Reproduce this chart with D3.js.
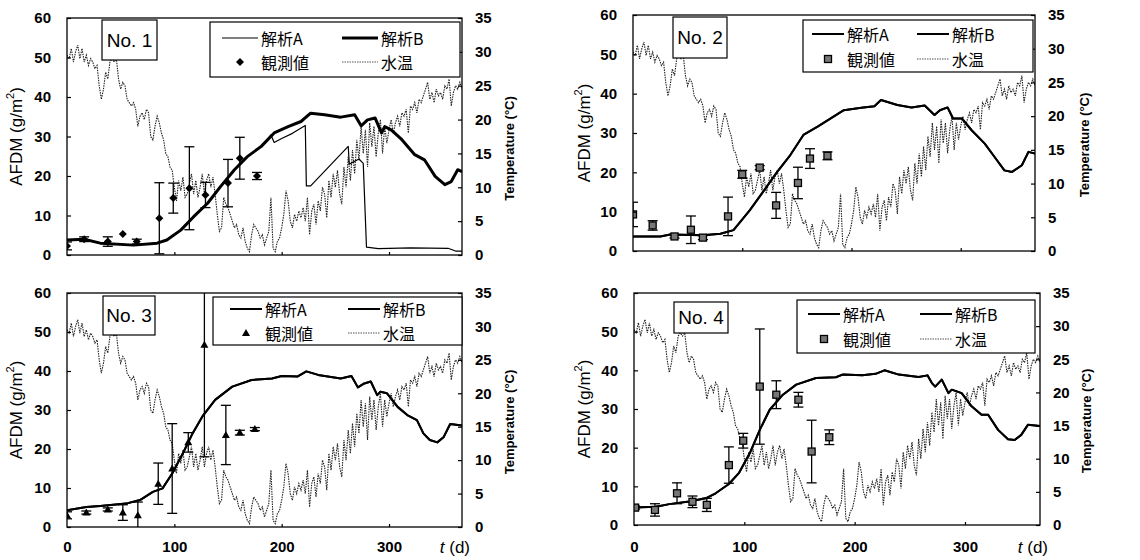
<!DOCTYPE html>
<html>
<head>
<meta charset="utf-8">
<script src="https://cdn.jsdelivr.net/npm/d3@7"></script>
<style>
  body { margin: 0; background: #fff; }
  svg { font-family: "Liberation Sans", Arial, sans-serif; }
  .cjk { font-family: "Noto Sans CJK JP", sans-serif; }
  .tick text { font: bold 15px "Liberation Sans", Arial, sans-serif; fill: #000; }
</style>
</head>
<body>
<svg id="chart" width="1140" height="560"></svg>
<script>
// water temperature (°C), one reading every 2 days from t = 0
const tempStep = 2;
const waterTemp = [
  29.5, 29, 30.5, 28.5, 30, 31, 29, 30.5, 28.5, 29.5, 28, 29, 28.5, 27.5, 28,
  25, 23, 24.5, 27, 26,
  28.5, 29, 28.5, 29,
  26, 24.5, 25.5, 25,
  23, 22.5, 22, 22.5,
  21.5, 19, 20.5, 21,
  20, 21.5, 21, 17.5,
  17, 19, 20.5, 19.5,
  18, 17, 15,
  14.5, 13, 12.5,
  10, 8, 11,
  9.5, 11.5, 8.5, 9,
  10.5, 12, 9,
  11, 8.5, 10, 12,
  9, 11, 12,
  10, 11.5, 9,
  6, 3.5, 4,
  8.5, 7.5, 7,
  6, 5, 4,
  4.5, 3, 2.5, 4,
  2, 1, 0.5,
  3, 4.5, 4,
  3.5, 2.5, 3,
  1.5, 2.5, 3.5, 8.5,
  1, 0.5, 2,
  2.5, 4, 6,
  9.5, 8, 5,
  4, 6, 5,
  6.5, 5.5, 7,
  5, 8.5, 3,
  6.5, 7.5, 4.5,
  8, 6.5, 10,
  9, 5.5, 11,
  8.5, 12, 10,
  12.5, 9, 7.5,
  13, 10, 14.5,
  11, 15.5, 12,
  17, 14, 19,
  15, 18.5, 13,
  19.5, 16, 19,
  14.5, 18, 20,
  15, 19, 16.5,
  18.5, 20, 18,
  19.5, 20.5, 19,
  21, 20.5, 21.5,
  18, 22, 21.5,
  22.5, 21, 23,
  22.5, 23.5, 24.5,
  25.5, 23, 24,
  22.5, 24.5, 23.5,
  24, 23, 25,
  24.5, 26, 22,
  24, 25, 24.5,
  25.5, 24.5
];

// model curves [t, AFDM]
const modelB1 = [[0,3.8],[16,4.0],[31,3.0],[62,2.5],[84,3.0],[93,3.8],[106,6.3],[118,9.7],[131,13.1],[143,17.3],[156,21.6],[168,24.9],[181,27.5],[193,30.9],[206,32.5],[218,33.8],[227,35.9],[240,35.5],[255,34.9],[268,35.5],[274,32.7],[280,34.2],[287,34.7],[293,30.9],[296,32.5],[302,31.7],[312,29.2],[324,25.4],[333,24.1],[343,19.9],[352,17.8],[358,18.6],[364,21.6],[368,21.1]];
const modelA1 = [[0,3.8],[16,4.0],[31,3.0],[62,2.5],[84,3.0],[93,3.8],[106,6.3],[118,9.7],[131,13.1],[143,17.3],[156,21.6],[168,24.9],[181,27.5],[190,30.4],[193,28.5],[200,29.5],[210,30.8],[222,32.8],[223,17.5],[227,17.5],[262,27.5],[263,23],[272,24.3],[276,23.2],[279,2.0],[290,1.6],[320,1.8],[355,1.7],[362,1.0],[368,1.0]];
const model2 = [[0,3.7],[25,3.7],[34,4.2],[64,4.0],[80,4.4],[92,5.3],[107,10.4],[120,15.4],[132,20.1],[144,24.4],[156,29.5],[169,31.6],[181,33.7],[193,35.8],[209,36.4],[221,36.8],[227,38.4],[242,37.1],[255,36.5],[267,37],[276,34.6],[281,35.8],[288,36.5],[293,33.7],[301,33.7],[310,30.7],[322,27.3],[331,23.9],[340,20.5],[347,20.1],[356,21.8],[362,25.2],[368,24.8]];
const model3 = [[0,4.3],[18,5.1],[31,5.4],[55,6],[68,6.9],[80,9],[89,9.9],[98,13.7],[108,18.9],[117,24],[126,28.3],[138,32.6],[154,36],[172,37.7],[191,38.1],[200,38.7],[215,38.6],[223,39.9],[234,39],[255,38.1],[265,38.7],[271,35.8],[277,36.8],[283,37.3],[289,33.8],[292,34.7],[298,34.3],[308,30.8],[317,28.7],[326,27.4],[332,24],[338,22.3],[345,21.7],[351,23.1],[357,26.4],[368,26]];
const model4 = [[0,4.5],[20,4.7],[32,5.4],[50,6.1],[65,6.9],[74,8.2],[86,10.6],[95,13.4],[105,18.6],[114,24.6],[123,29.8],[135,33.7],[147,36.3],[165,38],[183,38.2],[189,38.9],[207,38.7],[219,39.1],[227,40],[240,38.9],[258,38.3],[266,38.7],[270,36.7],[273,35.8],[279,37.6],[285,34.1],[288,35],[297,34.1],[306,30.7],[315,28.5],[321,28.5],[330,24.6],[339,22.2],[345,22],[351,23.3],[357,25.9],[368,25.6]];

// observations [t, mean, error]
const obs1 = [[0,2.3,1],[16,4.0,0.6],[38,3.4,1.2],[52,5.3,0],[65,3.4,0.6],[86,9.3,9],[99,14.4,3.8],[114,16.9,10.5],[129,15.2,3.2],[150,18.2,6],[161,24.5,5.3],[177,20.0,0.9]];
const obs2 = [[0,9.3,3.1],[18,6.5,1.2],[38,3.7,0.4],[53,5.4,3.5],[64,3.4,0.5],[87,8.8,4.9],[100,19.5,1],[116,21.2,0.5],[131,11.6,3.3],[151,17.3,4],[162,23.5,2.5],[178,24.2,1]];
const obs3 = [[0,3,0.9],[18,3.7,0.4],[38,4.5,0.4],[52,3.7,2],[66,3,3.4],[85,11.1,5.3],[98,15,11.5],[113,21.7,2.5],[128,46.7,28.7],[148,23.6,7.6],[161,24.2,0.6],[175,25.1,0.4]];
const obs4 = [[1,4.5,0.4],[19,3.9,1.6],[39,8.2,2.7],[53,6,1.5],[66,5.2,1.7],[86,15.5,4.7],[99,21.8,1.9],[114,35.8,14.9],[129,33.7,3.6],[149,32.4,1.9],[161,19,8.1],[177,22.7,1.9]];

const afdmTicks = [0, 10, 20, 30, 40, 50, 60];
const tempTicks = [0, 5, 10, 15, 20, 25, 30, 35];
const dayTicks = [0, 100, 200, 300];
const legendLabels = ["解析A", "解析B", "観測値", "水温"];

const panels = [
  { name: "No. 1", a: modelA1, b: modelB1, obs: obs1, marker: "diamond", thickB: 3, thinA: 1.2,
    left: 67, right: 462, top: 18, bottom: 255, xLabels: false,
    noBox: [102, 20, 55, 40], leg: [210, 22, 250, 55], rows: [38, 62], cols: [12, 132], lineW: 36, afdmX: 16, tempX: 509 },
  { name: "No. 2", a: model2, b: model2, obs: obs2, marker: "square", thickB: 2, thinA: 2,
    left: 633, right: 1035, top: 15, bottom: 251, xLabels: false,
    noBox: [673, 17, 54, 41], leg: [803, 20, 230, 52], rows: [34, 59], cols: [9, 114], lineW: 32, afdmX: 584, tempX: 1084 },
  { name: "No. 3", a: model3, b: model3, obs: obs3, marker: "triangle", thickB: 2, thinA: 2,
    left: 67, right: 462, top: 293, bottom: 527, xLabels: true, xLabelPad: 14,
    noBox: [103, 296, 52, 39], leg: [213, 297, 249, 48], rows: [309, 333], cols: [17, 135], lineW: 32, afdmX: 16, tempX: 509 },
  { name: "No. 4", a: model4, b: model4, obs: obs4, marker: "square", thickB: 2, thinA: 2,
    left: 634, right: 1040, top: 293, bottom: 525, xLabels: true, xLabelPad: 16,
    noBox: [674, 302, 54, 31], leg: [797, 300, 238, 53], rows: [314, 339], cols: [11, 123], lineW: 32, afdmX: 584, tempX: 1086 }
];

const svg = d3.select("#chart");
const tempSeries = waterTemp.map((v, i) => [i * tempStep, v]);

function drawMarker(g, type, cx, cy) {
  if (type === "diamond") {
    g.append("path").attr("d", `M${cx},${cy - 4}L${cx + 4},${cy}L${cx},${cy + 4}L${cx - 4},${cy}Z`).attr("fill", "#000");
  } else if (type === "square") {
    g.append("rect").attr("x", cx - 3.5).attr("y", cy - 3.5).attr("width", 7).attr("height", 7)
      .attr("fill", "#777").attr("stroke", "#000").attr("stroke-width", 1.3);
  } else {
    g.append("path").attr("d", `M${cx},${cy - 4}L${cx + 4},${cy + 3}L${cx - 4},${cy + 3}Z`).attr("fill", "#000");
  }
}

panels.forEach((p, pi) => {
  const g = svg.append("g");
  const x = d3.scaleLinear().domain([0, 368]).range([p.left, p.right]);
  const y = d3.scaleLinear().domain([0, 60]).range([p.bottom, p.top]);
  const yT = d3.scaleLinear().domain([0, 35]).range([p.bottom, p.top]);

  const clipId = "clip" + pi;
  svg.append("clipPath").attr("id", clipId).append("rect")
    .attr("x", p.left).attr("y", p.top).attr("width", p.right - p.left).attr("height", p.bottom - p.top);
  const plot = g.append("g").attr("clip-path", `url(#${clipId})`);

  // water temperature
  plot.append("path").datum(tempSeries)
    .attr("d", d3.line().x(d => x(d[0])).y(d => yT(d[1])))
    .attr("fill", "none").attr("stroke", "#222").attr("stroke-width", 1.1)
    .attr("stroke-dasharray", "1.5,1");

  // models
  const line = d3.line().x(d => x(d[0])).y(d => y(d[1]));
  plot.append("path").datum(p.b).attr("d", line)
    .attr("fill", "none").attr("stroke", "#000").attr("stroke-width", p.thickB).attr("stroke-linejoin", "round");
  plot.append("path").datum(p.a).attr("d", line)
    .attr("fill", "none").attr("stroke", "#000").attr("stroke-width", p.thinA).attr("stroke-linejoin", "round");

  // observations with error bars
  p.obs.forEach(([t, m, e]) => {
    const cx = x(t);
    if (e > 0) {
      const y1 = y(m + e), y2 = y(Math.max(m - e, 0));
      plot.append("line").attr("x1", cx).attr("x2", cx).attr("y1", y1).attr("y2", y2)
        .attr("stroke", "#000").attr("stroke-width", 1.3);
      [y1, y2].forEach(yy => {
        if (yy > p.top && yy < p.bottom - 0.5)
          plot.append("line").attr("x1", cx - 5).attr("x2", cx + 5).attr("y1", yy).attr("y2", yy)
            .attr("stroke", "#000").attr("stroke-width", 1.3);
      });
    }
    drawMarker(plot, p.marker, cx, y(m));
  });

  // frame
  g.append("rect").attr("x", p.left).attr("y", p.top)
    .attr("width", p.right - p.left).attr("height", p.bottom - p.top)
    .attr("fill", "none").attr("stroke", "#000").attr("stroke-width", 1.3);

  // axes
  const ax = g.append("g").attr("transform", `translate(${p.left},0)`)
    .call(d3.axisLeft(y).tickValues(afdmTicks).tickSize(-4).tickPadding(16));
  const axR = g.append("g").attr("transform", `translate(${p.right},0)`)
    .call(d3.axisRight(yT).tickValues(tempTicks).tickSize(-4).tickPadding(13));
  const axB = g.append("g").attr("transform", `translate(0,${p.bottom})`)
    .call(d3.axisBottom(x).tickValues(dayTicks.slice(1)).tickSize(-3).tickFormat(""));
  if (p.xLabels) {
    const axL = g.append("g").attr("transform", `translate(0,${p.bottom})`)
      .call(d3.axisBottom(x).tickValues(dayTicks).tickSize(0).tickPadding(p.xLabelPad));
    axL.select(".domain").remove();
    const tl = g.append("text").attr("x", p.right + 8).attr("y", p.bottom + p.xLabelPad + 12)
      .attr("text-anchor", "end").attr("font-size", 17).attr("fill", "#000");
    tl.append("tspan").attr("font-style", "italic").text("t");
    tl.append("tspan").text(" (d)");
  }
  [ax, axR, axB].forEach(a => {
    a.select(".domain").remove();
    a.selectAll("line").attr("stroke", "#000").attr("stroke-width", 1.2);
  });

  // axis titles
  const cy = (p.top + p.bottom) / 2;
  const at = g.append("text").attr("transform", `translate(${p.afdmX},${cy}) rotate(-90)`)
    .attr("text-anchor", "middle").attr("dominant-baseline", "central").attr("font-size", 17).attr("fill", "#000");
  at.append("tspan").text("AFDM (g/m");
  at.append("tspan").attr("font-size", 11).attr("baseline-shift", "super").text("2");
  at.append("tspan").text(")");
  g.append("text").attr("transform", `translate(${p.tempX},${cy + 12}) rotate(-90)`)
    .attr("text-anchor", "middle").attr("dominant-baseline", "central")
    .attr("font-size", 13).attr("font-weight", "bold").attr("fill", "#000")
    .text("Temperature (°C)");

  // panel name box
  const [bx, by, bw, bh] = p.noBox;
  g.append("rect").attr("x", bx).attr("y", by).attr("width", bw).attr("height", bh)
    .attr("fill", "#fff").attr("stroke", "#000").attr("stroke-width", 1.2);
  g.append("text").attr("x", bx + bw / 2).attr("y", by + bh / 2).attr("text-anchor", "middle")
    .attr("dominant-baseline", "central").attr("font-size", 19).attr("fill", "#000").text(p.name);

  // legend
  const [lx, ly, lw, lh] = p.leg;
  g.append("rect").attr("x", lx).attr("y", ly).attr("width", lw).attr("height", lh)
    .attr("fill", "#fff").attr("stroke", "#000").attr("stroke-width", 1.2);
  const items = [
    { row: 0, col: 0, kind: "line", w: p.thinA },
    { row: 0, col: 1, kind: "line", w: p.thickB },
    { row: 1, col: 0, kind: "marker" },
    { row: 1, col: 1, kind: "temp" }
  ];
  items.forEach((it, k) => {
    const x0 = lx + p.cols[it.col], yy = p.rows[it.row];
    if (it.kind === "line") {
      g.append("line").attr("x1", x0).attr("x2", x0 + p.lineW).attr("y1", yy).attr("y2", yy)
        .attr("stroke", "#000").attr("stroke-width", it.w);
    } else if (it.kind === "temp") {
      g.append("line").attr("x1", x0).attr("x2", x0 + p.lineW).attr("y1", yy).attr("y2", yy)
        .attr("stroke", "#555").attr("stroke-width", 1).attr("stroke-dasharray", "1.5,1");
    } else {
      drawMarker(g, p.marker, x0 + p.lineW / 2, yy);
    }
    g.append("text").attr("class", "cjk").attr("x", x0 + p.lineW + 3).attr("y", yy)
      .attr("dominant-baseline", "central").attr("font-size", 16).attr("fill", "#000")
      .text(legendLabels[k]);
  });
});
</script>
</body>
</html>
